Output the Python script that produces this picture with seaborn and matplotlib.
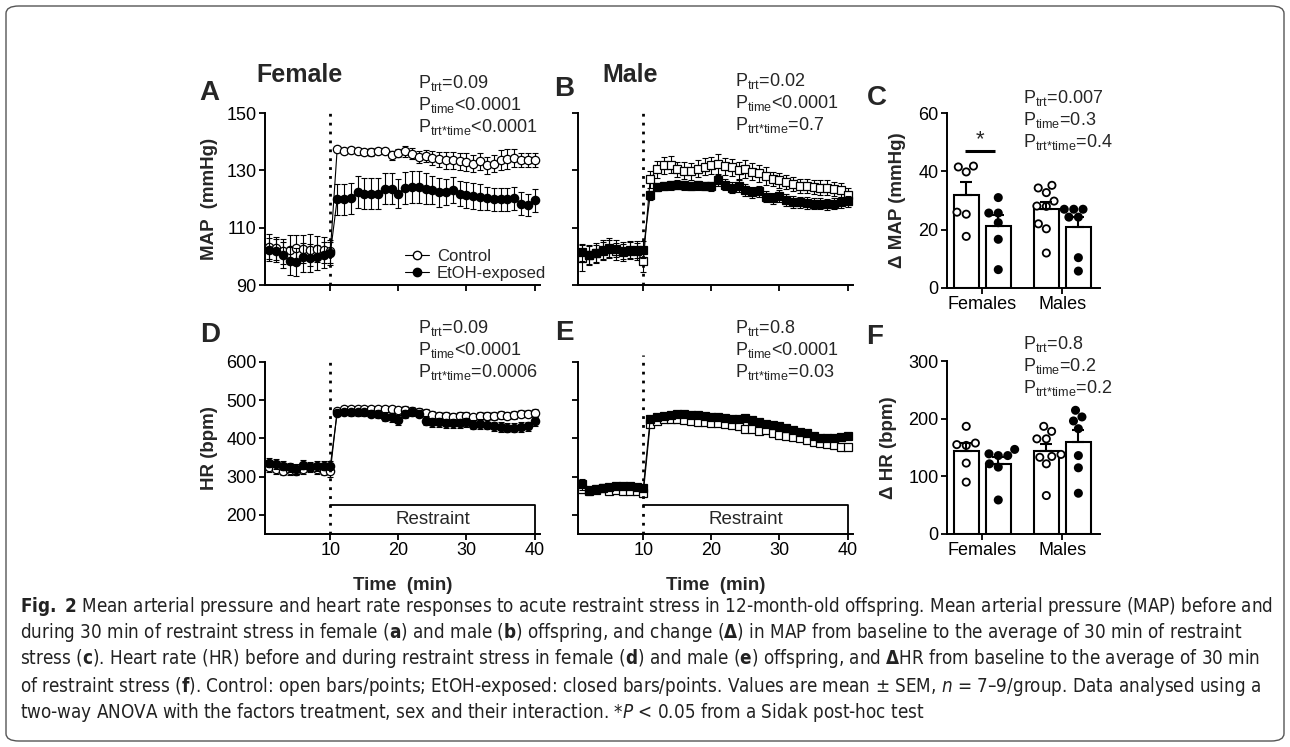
import numpy as np
import pandas as pd
import matplotlib
matplotlib.use("Agg")
import matplotlib.pyplot as plt
import seaborn as sns
from matplotlib import font_manager
from matplotlib.font_manager import FontProperties
from matplotlib.lines import Line2D
from matplotlib.patches import FancyBboxPatch

# time course, 1-min bins; restraint from 10 to 40 min
minutes = list(range(1, 41))
restraint_start = 10
restraint_end = 40

# A: female MAP
a_ctrl = [103.4, 102.8, 101.7, 102.3, 102.8, 102.6, 102.3, 102.6, 102.3, 101.7,
          137.3, 136.9, 137.2, 136.6, 136.4, 136.4, 136.9, 136.9, 135.2, 136.1,
          136.6, 135.8, 134.6, 135.0, 134.3, 133.8, 133.5, 133.5, 133.1, 132.9,
          132.3, 133.1, 131.7, 132.3, 133.5, 133.8, 134.3, 133.5, 133.5, 133.5]
a_ctrl_sem = [4.5, 4.0, 4.5, 5.0, 4.5, 5.0, 5.5, 4.5, 4.5, 4.0,
              1.0, 1.0, 1.0, 1.0, 1.0, 1.5, 1.0, 1.0, 1.5, 1.5,
              2.0, 2.0, 2.0, 2.0, 2.5, 2.5, 3.0, 3.0, 3.0, 3.0,
              3.0, 3.0, 3.0, 3.0, 3.5, 3.5, 3.0, 2.5, 2.5, 2.5]
a_etoh = [102.3, 101.9, 100.5, 98.4, 98.0, 99.6, 99.4, 99.6, 100.5, 101.1,
          119.9, 119.9, 120.2, 122.5, 121.9, 121.9, 121.9, 123.6, 123.6, 121.9,
          123.9, 124.2, 124.2, 123.6, 123.1, 122.3, 122.5, 123.1, 121.9, 121.3,
          121.1, 120.8, 120.2, 119.9, 119.9, 119.9, 120.2, 118.4, 117.9, 119.6]
a_etoh_sem = [4.0, 4.0, 4.5, 5.0, 5.0, 5.0, 5.0, 4.5, 4.5, 4.0,
              5.5, 5.5, 5.5, 5.5, 5.5, 5.5, 5.5, 5.5, 5.5, 5.0,
              5.5, 5.5, 5.5, 5.5, 5.0, 5.0, 4.5, 4.5, 4.5, 4.5,
              4.5, 4.5, 4.0, 4.0, 4.0, 4.0, 4.0, 4.0, 4.0, 4.0]

# B: male MAP
b_ctrl = [99.4, 100.5, 101.1, 102.3, 102.8, 101.7, 101.4, 101.9, 101.7, 98.2,
          126.9, 130.3, 131.7, 131.9, 130.3, 129.9, 129.7, 130.6, 131.2, 131.7,
          132.3, 131.4, 131.0, 130.0, 130.5, 129.5, 129.0, 128.0, 127.0, 126.5,
          126.0, 125.2, 124.6, 124.6, 124.2, 124.0, 124.0, 123.6, 123.1, 121.5]
b_ctrl_sem = [4.5, 3.5, 3.5, 3.5, 3.5, 3.0, 3.0, 3.0, 3.0, 3.5,
              3.0, 3.0, 3.0, 3.0, 2.5, 3.0, 3.0, 3.0, 3.0, 3.0,
              3.5, 3.0, 3.0, 3.0, 3.0, 3.0, 3.0, 3.0, 2.5, 2.5,
              2.5, 2.5, 2.5, 2.5, 2.5, 2.5, 2.5, 2.5, 2.5, 2.5]
b_etoh = [101.4, 100.5, 101.1, 101.9, 102.6, 102.6, 101.9, 102.3, 102.3, 102.3,
          121.3, 124.2, 124.6, 124.8, 125.0, 124.8, 124.6, 124.8, 124.6, 124.4,
          126.5, 125.0, 124.0, 124.6, 123.1, 122.3, 122.7, 120.8, 120.2, 121.0,
          119.6, 119.0, 118.8, 118.6, 118.4, 118.4, 118.1, 118.4, 118.8, 119.2]
b_etoh_sem = [3.0, 3.0, 3.0, 3.0, 3.0, 3.0, 3.0, 3.0, 3.0, 3.0,
              1.5, 1.5, 1.5, 1.5, 1.5, 1.5, 1.5, 1.5, 1.5, 1.5,
              2.0, 2.0, 2.0, 2.0, 2.0, 2.0, 2.0, 2.0, 2.0, 2.0,
              2.0, 2.0, 2.0, 2.0, 2.0, 2.0, 2.0, 2.0, 2.0, 2.0]

# D: female HR
d_ctrl = [324, 320, 316, 317, 316, 320, 324, 320, 316, 314,
          472, 476, 477, 478, 476, 476, 478, 477, 476, 475,
          474, 472, 470, 466, 462, 460, 458, 456, 458, 460,
          455, 458, 460, 458, 462, 460, 462, 465, 465, 466]
d_ctrl_sem = [12, 12, 12, 12, 12, 12, 12, 12, 12, 14,
              8, 8, 8, 8, 8, 8, 8, 8, 8, 8,
              10, 10, 10, 10, 10, 10, 10, 10, 10, 10,
              10, 10, 10, 10, 10, 10, 10, 10, 10, 10]
d_etoh = [337, 333, 329, 324, 320, 331, 326, 328, 329, 329,
          466, 470, 468, 468, 468, 465, 464, 457, 455, 448,
          464, 468, 465, 446, 442, 442, 440, 440, 440, 442,
          436, 438, 436, 432, 430, 428, 428, 430, 432, 445]
d_etoh_sem = [12, 12, 12, 12, 12, 12, 12, 12, 12, 12,
              8, 8, 8, 8, 8, 10, 10, 12, 12, 14,
              10, 10, 10, 12, 12, 12, 12, 12, 12, 12,
              12, 12, 12, 12, 12, 12, 12, 12, 12, 12]

# E: male HR
e_ctrl = [267, 263, 267, 270, 263, 264, 263, 263, 263, 258,
          438, 445, 450, 450, 450, 448, 445, 444, 443, 441,
          440, 437, 435, 432, 426, 424, 419, 421, 415, 410,
          406, 404, 400, 395, 391, 389, 386, 384, 378, 377]
e_ctrl_sem = [10, 10, 10, 8, 8, 8, 8, 8, 8, 8,
              8, 6, 6, 6, 6, 6, 6, 6, 6, 6,
              6, 6, 6, 6, 6, 6, 6, 6, 6, 6,
              6, 6, 6, 6, 6, 6, 8, 8, 8, 8]
e_etoh = [280, 264, 266, 270, 273, 276, 276, 276, 273, 271,
          450, 456, 458, 461, 463, 463, 461, 461, 458, 456,
          456, 454, 450, 450, 454, 447, 444, 438, 435, 432,
          428, 421, 417, 415, 406, 400, 400, 402, 404, 406]
e_etoh_sem = [14, 10, 10, 8, 8, 8, 8, 8, 8, 8,
              6, 6, 6, 6, 6, 6, 6, 6, 6, 6,
              6, 6, 6, 6, 6, 6, 6, 6, 6, 6,
              6, 6, 6, 6, 6, 8, 6, 6, 6, 6]

# C: change in MAP, individual animals
dmap_f_ctrl = [41.5, 39.8, 41.8, 26.0, 25.3, 17.7]
dmap_f_etoh = [31.0, 25.7, 25.7, 22.4, 16.7, 6.3]
dmap_m_ctrl = [34.3, 32.7, 35.2, 29.8, 28.1, 28.0, 22.0, 20.3, 12.0]
dmap_m_etoh = [27.0, 27.0, 27.0, 24.3, 24.3, 10.4, 5.8]

# F: change in HR, individual animals
dhr_f_ctrl = [186.7, 155.0, 157.7, 153.6, 123.0, 90.0]
dhr_f_etoh = [146.7, 136.0, 136.0, 139.0, 121.7, 116.0, 59.0]
dhr_m_ctrl = [186.7, 178.0, 165.0, 165.0, 133.0, 134.5, 138.0, 121.7, 66.7]
dhr_m_etoh = [203.0, 196.0, 214.5, 182.6, 136.0, 114.8, 70.7]

sexes = ['Females', 'Males']
groups = ['Control', 'EtOH-exposed']

p_a = ['=0.09', '<0.0001', '<0.0001']
p_b = ['=0.02', '<0.0001', '=0.7']
p_c = ['=0.007', '=0.3', '=0.4']
p_d = ['=0.09', '<0.0001', '=0.0006']
p_e = ['=0.8', '<0.0001', '=0.03']
p_f = ['=0.8', '=0.2', '=0.2']
p_subs = ['trt', 'time', 'trt{*}time']

caption = [
    r"$\mathbf{Fig.\ 2}$ Mean arterial pressure and heart rate responses to acute restraint stress in 12-month-old offspring. Mean arterial pressure (MAP) before and",
    r"during 30 min of restraint stress in female ($\mathbf{a}$) and male ($\mathbf{b}$) offspring, and change ($\mathbf{\Delta}$) in MAP from baseline to the average of 30 min of restraint",
    r"stress ($\mathbf{c}$). Heart rate (HR) before and during restraint stress in female ($\mathbf{d}$) and male ($\mathbf{e}$) offspring, and $\mathbf{\Delta}$HR from baseline to the average of 30 min",
    r"of restraint stress ($\mathbf{f}$). Control: open bars/points; EtOH-exposed: closed bars/points. Values are mean ± SEM, $\mathit{n}$ = 7–9/group. Data analysed using a",
    r"two-way ANOVA with the factors treatment, sex and their interaction. *$\mathit{P}$ < 0.05 from a Sidak post-hoc test",
]


def pick_condensed():
    # caption is set in a narrow face; use whatever condensed sans is installed
    found = {}
    for f in font_manager.fontManager.ttflist:
        st = f.stretch if isinstance(f.stretch, str) else 'normal'
        if 'Narrow' in f.name or 'Condensed' in f.name:
            found.setdefault(f.name, 'normal')
        elif st in ('condensed', 'semi-condensed', 'extra-condensed', 'ultra-condensed'):
            found.setdefault(f.name, st)
    for p in ['Liberation Sans Narrow', 'DejaVu Sans', 'DejaVu Sans Condensed', 'Noto Sans',
              'Noto Sans Condensed', 'Open Sans', 'Open Sans Condensed', 'Roboto', 'Roboto Condensed']:
        if p in found:
            return p, found[p]
    for name, st in found.items():
        if 'Mono' not in name and 'Serif' not in name and 'CJK' not in name:
            return name, st
    return 'DejaVu Sans', 'normal'


sns.set_style("ticks")
plt.rcParams['font.family'] = ['Liberation Sans', 'DejaVu Sans']
cap_font, cap_stretch = pick_condensed()
suffix = '' if cap_stretch == 'normal' else ':stretch=' + cap_stretch
plt.rcParams['mathtext.fontset'] = 'custom'
plt.rcParams['mathtext.rm'] = 'Liberation Sans'
plt.rcParams['mathtext.it'] = cap_font + ':style=italic' + suffix
plt.rcParams['mathtext.bf'] = cap_font + ':weight=bold' + suffix
plt.rcParams['axes.linewidth'] = 1.4
plt.rcParams['axes.edgecolor'] = 'black'
plt.rcParams['xtick.color'] = 'black'
plt.rcParams['ytick.color'] = 'black'

W, H = 1290, 747
fig = plt.figure(figsize=(12.9, 7.47), dpi=100)


def box(l, t, r, b):
    return [l / W, 1 - b / H, (r - l) / W, (b - t) / H]


ax_a = fig.add_axes(box(265, 113, 540, 285))
ax_b = fig.add_axes(box(578, 113, 853, 285))
ax_c = fig.add_axes(box(947, 113, 1100, 288))
ax_d = fig.add_axes(box(265, 362, 540, 534))
ax_e = fig.add_axes(box(578, 362, 853, 534))
ax_f = fig.add_axes(box(947, 361, 1100, 534))


def style_ax(ax):
    sns.despine(ax=ax)
    ax.tick_params(direction='out', length=4, width=1.3, labelsize=13, pad=2)


def draw_time(ax, ctrl, ctrl_sem, etoh, etoh_sem, marker, ylim, yticks, top_ext, box_top=None):
    ax.errorbar(minutes, ctrl, yerr=ctrl_sem, fmt='none', ecolor='black',
                elinewidth=0.8, capsize=2.5, capthick=0.8, zorder=2)
    sns.lineplot(x=minutes, y=ctrl, ax=ax, color='black', lw=0.8, marker=marker,
                 markersize=6, markerfacecolor='white', markeredgecolor='black',
                 markeredgewidth=0.9, zorder=3)
    ax.errorbar(minutes, etoh, yerr=etoh_sem, fmt='none', ecolor='black',
                elinewidth=0.8, capsize=2.5, capthick=0.8, zorder=4)
    sns.lineplot(x=minutes, y=etoh, ax=ax, color='black', lw=0.8, marker=marker,
                 markersize=6, markerfacecolor='black', markeredgecolor='black',
                 markeredgewidth=0.9, zorder=5)
    ax.set_xlim(0.4, 40.8)
    ax.set_ylim(*ylim)
    ax.set_xticks([10, 20, 30, 40])
    ax.set_yticks(yticks)
    ax.axvline(restraint_start, ymin=0, ymax=top_ext, clip_on=False, color='black',
               ls=(0, (1, 2.2)), lw=2, zorder=6)
    if box_top is not None:
        y0 = ylim[0]
        ax.plot([restraint_start, restraint_end, restraint_end], [box_top, box_top, y0],
                color='black', lw=1.3, clip_on=False)
        ax.text((restraint_start + restraint_end) / 2, (box_top + y0) / 2, 'Restraint',
                ha='center', va='center', fontsize=13.5)
    ax.set_xlabel('')
    ax.set_ylabel('')
    style_ax(ax)


draw_time(ax_a, a_ctrl, a_ctrl_sem, a_etoh, a_etoh_sem, 'o', (90, 150), [90, 110, 130, 150], 1.02)
draw_time(ax_b, b_ctrl, b_ctrl_sem, b_etoh, b_etoh_sem, 's', (90, 150), [90, 110, 130, 150], 1.02)
draw_time(ax_d, d_ctrl, d_ctrl_sem, d_etoh, d_etoh_sem, 'o', (150, 600), [200, 300, 400, 500, 600], 1.03, 225)
draw_time(ax_e, e_ctrl, e_ctrl_sem, e_etoh, e_etoh_sem, 's', (150, 600), [200, 300, 400, 500, 600], 1.04, 225)

ax_a.tick_params(labelbottom=False)
ax_b.tick_params(labelbottom=False, labelleft=False)
ax_e.tick_params(labelleft=False)
ax_a.set_ylabel('MAP  (mmHg)', fontsize=13.5, fontweight='bold')
ax_d.set_ylabel('HR (bpm)', fontsize=13.5, fontweight='bold')
ax_a.yaxis.set_label_coords(-0.17, 0.5)
ax_d.yaxis.set_label_coords(-0.17, 0.5)
for ax in (ax_d, ax_e):
    ax.set_xlabel('Time  (min)', fontsize=13.5, fontweight='bold', labelpad=13)

handles = [Line2D([], [], color='black', lw=0.8, marker='o', ms=6, mfc='white', mec='black'),
           Line2D([], [], color='black', lw=0.8, marker='o', ms=6, mfc='black', mec='black')]
ax_a.legend(handles, groups, loc='upper left', bbox_to_anchor=(0.48, 0.26), frameon=False,
            fontsize=12, handlelength=1.4, handletextpad=0.5, borderpad=0, labelspacing=0.15)


def long_df(fc, fe, mc, me):
    rows = []
    for sex, grp, vals in [('Females', 'Control', fc), ('Females', 'EtOH-exposed', fe),
                           ('Males', 'Control', mc), ('Males', 'EtOH-exposed', me)]:
        for v in vals:
            rows.append({'sex': sex, 'group': grp, 'value': v})
    return pd.DataFrame(rows)


def draw_delta(ax, df, ylim, yticks, ylabel, label_x):
    sns.barplot(data=df, x='sex', y='value', hue='group', order=sexes, hue_order=groups,
                palette=['white', 'white'], edgecolor='black', linewidth=1.5,
                errorbar=None, width=0.8, gap=0.22, legend=False, ax=ax, zorder=1)
    sns.swarmplot(data=df, x='sex', y='value', hue='group', order=sexes, hue_order=groups,
                  palette=['white', 'black'], edgecolor='black', linewidth=1.3, size=5.2,
                  dodge=True, legend=False, ax=ax, zorder=3)
    stats = df.groupby(['sex', 'group'])['value'].agg(['mean', 'sem'])
    for p in ax.patches:
        h = p.get_height()
        key = (stats['mean'] - h).abs().idxmin()
        cx = p.get_x() + p.get_width() / 2
        ax.errorbar([cx], [h], yerr=[[0], [stats.loc[key, 'sem']]], fmt='none',
                    ecolor='black', elinewidth=1.5, capsize=4.5, capthick=1.5, zorder=4)
    ax.set_xlim(-0.44, 1.47)
    ax.set_ylim(*ylim)
    ax.set_yticks(yticks)
    ax.set_xlabel('')
    ax.set_ylabel(ylabel, fontsize=13.5, fontweight='bold')
    ax.yaxis.set_label_coords(label_x, 0.5)
    style_ax(ax)


draw_delta(ax_c, long_df(dmap_f_ctrl, dmap_f_etoh, dmap_m_ctrl, dmap_m_etoh),
           (0, 60), [0, 20, 40, 60], 'Δ MAP (mmHg)', -0.27)
draw_delta(ax_f, long_df(dhr_f_ctrl, dhr_f_etoh, dhr_m_ctrl, dhr_m_etoh),
           (0, 300), [0, 100, 200, 300], 'Δ HR (bpm)', -0.33)

# Sidak post-hoc bar, females
ax_c.plot([-0.22, 0.16], [47, 47], color='black', lw=2.2, solid_capstyle='butt')
ax_c.text(-0.03, 51, '*', ha='center', va='center', fontsize=16)


def p_block(x, y, vals):
    for i, (sub, v) in enumerate(zip(p_subs, vals)):
        fig.text(x / W, 1 - (y + 22 * i) / H, r'P$_{\mathregular{%s}}$%s' % (sub, v),
                 fontsize=13, ha='left', va='baseline')


p_block(418, 88, p_a)
p_block(735, 86, p_b)
p_block(1023, 103, p_c)
p_block(418, 333, p_d)
p_block(735, 333, p_e)
p_block(1023, 349, p_f)

for lab, x, y in [('A', 209, 93), ('B', 564, 89), ('C', 877, 98),
                  ('D', 210, 335), ('E', 564, 333), ('F', 875, 337)]:
    fig.text(x / W, 1 - y / H, lab, fontsize=20, fontweight='bold', ha='center', va='center')

fig.text(300 / W, 1 - 75 / H, 'Female', fontsize=18, fontweight='bold', ha='center', va='center')
fig.text(630 / W, 1 - 75 / H, 'Male', fontsize=18, fontweight='bold', ha='center', va='center')

# caption, scaled so the first line spans the box width
cap_y = [606, 633, 659, 686, 712]
cap_prop = FontProperties(family=cap_font, stretch=cap_stretch, size=12)
cap_texts = [fig.text(20 / W, 1 - y / H, line, fontproperties=cap_prop, color='#222222',
                      ha='left', va='center') for line, y in zip(caption, cap_y)]
fig.canvas.draw()
r = fig.canvas.get_renderer()
w0 = cap_texts[0].get_window_extent(r).width
for t in cap_texts:
    t.set_fontsize(12 * 1252 / w0)

frame = FancyBboxPatch((6 / W, 6 / H), 1278 / W, 735 / H, boxstyle='round,pad=0,rounding_size=0.01',
                       transform=fig.transFigure, fill=False, ec='#555555', lw=1.0)
fig.patches.append(frame)

fig.savefig('out.png', dpi=100)
